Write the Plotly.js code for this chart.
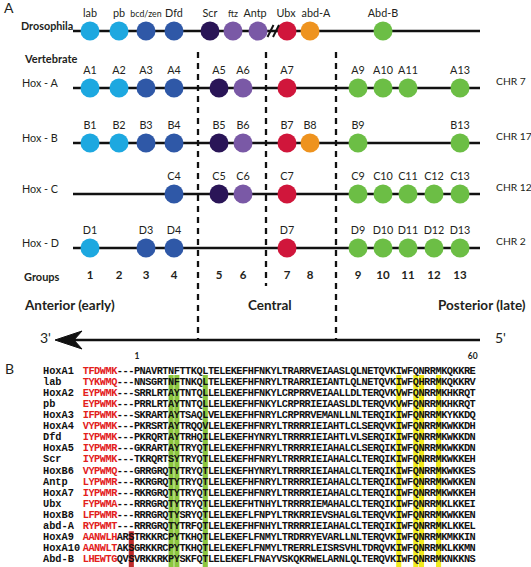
<!DOCTYPE html>
<html><head><meta charset="utf-8">
<script src="https://cdn.plot.ly/plotly-3.0.1.min.js"></script>
<style>html,body{margin:0;padding:0;background:#fff;}#chart{width:531px;height:567px;}</style>
</head><body><div id="chart"></div>
<script>
// ================= DATA =================
const drosGenes  = ['lab','pb','bcd/zen','Dfd','Scr','ftz','Antp','Ubx','abd-A','Abd-B'];
const drosGroups = [1, 2, 3, 4, 5, 6, 6, 7, 8, 9];
const clusterNames   = ['Hox - A','Hox - B','Hox - C','Hox - D'];
const clusterLetters = ['A','B','C','D'];
const chromosomes    = ['CHR 7','CHR 17','CHR 12','CHR 2'];
const hoxA = [1,2,3,4,5,6,7,9,10,11,13];
const hoxB = [1,2,3,4,5,6,7,8,9,13];
const hoxC = [4,5,6,7,9,10,11,12,13];
const hoxD = [1,3,4,7,9,10,11,12,13];
const groupNumbers = [1,2,3,4,5,6,7,8,9,10,11,12,13];
const regionLabels = ['Anterior (early)','Central','Posterior (late)'];
const endLabels = ["3'", "5'"];
const seqNames = ['HoxA1','lab','HoxA2','pb','HoxA3','HoxA4','Dfd','HoxA5','Scr','HoxB6',
                  'Antp','HoxA7','Ubx','HoxB8','abd-A','HoxA9','HoxA10','Abd-B'];
const seqs = [
 'TFDWMK---PNAVRTNFTTKQLTELEKEFHFNKYLTRARRVEIAASLQLNETQVKIWFQNRRMKQKKRE',
 'TYKWMQ---NNSGRTNFTNKQLTELEKEFHFNRYLTRARRIEIANTLQLNETQVKIWFQHRRMKQKKRV',
 'EYPWMK---SRRLRTAYTNTQLLELEKEFHFNKYLCRPRRVEIAALLDLTERQVKVWFQNRRMKHKRQT',
 'EYPWMK---PRRLRTAYTNTQLLELEKEFHFNKYLCRPRRIEIAASLDLTERQVKVWFQNRRMKHKRQT',
 'IFPWMK---SKRARTAYTSAQLVELEKEFHFNRYLCRPRRVEMANLLNLTERQIKIWFQNRRMKYKKDQ',
 'VYPWMK---PKRSRTAYTRQQVLELEKEFHFNRYLTRRRRIEIAHTLCLSERQVKIWFQNRRMKWKKDH',
 'IYPWMK---PKRQRTAYTRHQILELEKEFHYNRYLTRRRRIEIAHTLVLSERQIKIWFQNRRMKWKKDN',
 'IYPWMR---GKRARTAYTRYQTLELEKEFHFNRYLTRRRRIEIAHALCLSERQIKIWFQNRRMKWKKDN',
 'IYPWMK---TKRQRTSYTRYQTLELEKEFHFNRYLTRRRRIEIAHALCLTERQIKIWFQNRRMKWKKEH',
 'VYPWMQ---GRRGRQTYTRYQTLELEKEFHYNRYLTRRRRIEIAHALCLTERQIKIWFQNRRMKWKKES',
 'LYPWMR---RKRGRQTYTRYQTLELEKEFHFNRYLTRRRRIEIAHALCLTERQIKIWFQNRRMKWKKEN',
 'IYPWMR---RKRGRQTYTRYQTLELEKEFHFNRYLTRRRRIEIAHALCLTERQIKIWFQNRRMKWKKEH',
 'FYPWMA---RRRGRQTYTRYQTLELEKEFHTNHYLTRRRRIEMAHALCLTERQIKIWFQNRRMKLKKEI',
 'LFPWMR---RRRGRQTYSRYQTLELEKEFLFNPYLTRKRRIEVSHALGLTERQVKIWFQNRRMKWKKEN',
 'RYPWMT---RRRGRQTYTRFQTLELEKEFHFNHYLTRRRRIEIAHALCLTERQIKIWFQNRRMKLKKEL',
 'AANWLHARSTRKKRCPYTKHQTLELEKEFLFNMYLTRDRRYEVARLLNLTERQVKIWFQNRRMKMKKIN',
 'AANWLTAKSGRKKRCPYTKHQTLELEKEFLFNMYLTRERRLEISRSVHLTDRQVKIWFQNRRMKLKKMN',
 'LHEWTGQVSVRKKRKPYSKFQTLELEKEFLFNAYVSKQKRWELARNLQLTERQVKIWFQNRRMKNKKNS'
];
const redPrefixLength = 6;       // hexapeptide residues shown in red
const prefixLength = 9;          // residues before homeodomain position 1
const greenPositions  = [7, 8, 13];
const yellowPositions = [47, 50, 51, 54];
const redBoxPosition  = 0;
const redBoxRows = ['HoxA9','HoxA10','Abd-B'];
const positionMarks = [1, 60];

// ================= LAYOUT CONSTANTS =================
const COLX = {1:90,2:119,3:146,4:174,5:219,6:243,7:287,8:310,9:358,10:383,11:408,12:434,13:460};
const DROS_X = {'lab':90,'pb':119,'bcd/zen':146,'Dfd':174,'Scr':210,'ftz':233,'Antp':258,'Ubx':287,'abd-A':310,'Abd-B':383};
const DROS_LABEL_DX = {'Antp':-3,'Ubx':-1,'abd-A':6};
const DROS_Y = 31;
const CLUSTER_Y = [88, 143, 194, 248];
const LINE_X0 = 73, LINE_X1 = 480;
const LABEL_DY = -16.5;
const MSIZE = 19;
const GROUPS_Y = 276, REGION_Y = 305, ARROW_Y = 340;
const SEQ_X1 = 137, CHAR_W = 5.69;          // x of homeodomain position 1, char advance
const SEQ_Y0 = 371.5, ROW_H = 11.05;
const SANS = 'Lato, "Open Sans", sans-serif';
const MONO = '"Liberation Mono", "Courier New", monospace';
const TXT = '#231F20';
const LBL = 10.8;

function groupColor(g){
  if (g <= 2) return '#1DA8E0';
  if (g <= 4) return '#2F58A7';
  if (g === 5) return '#2A1557';
  if (g === 6) return '#7A59A6';
  if (g === 7) return '#D0163B';
  if (g === 8) return '#EE931F';
  return '#6CBE45';
}
const posX = p => SEQ_X1 + (p - 1) * CHAR_W;
const rowY = i => SEQ_Y0 + i * ROW_H;

// ================= TRACES =================
const traces = [];
const base = {type:'scatter', hoverinfo:'skip', showlegend:false, cliponaxis:false};

// Drosophila
traces.push(Object.assign({}, base, {mode:'markers',
  x: drosGenes.map(g => DROS_X[g]), y: drosGenes.map(() => DROS_Y),
  marker:{size:MSIZE, color: drosGroups.map(groupColor), line:{width:0}}}));
traces.push(Object.assign({}, base, {mode:'text',
  x: drosGenes.map(g => DROS_X[g] + (DROS_LABEL_DX[g] || 0)), y: drosGenes.map(() => DROS_Y + LABEL_DY),
  text: drosGenes, textposition:'middle center',
  textfont:{family:SANS, size: drosGenes.map(g => (g === 'bcd/zen' || g === 'ftz') ? 8.8 : LBL), color:TXT}}));

// Vertebrate clusters
[hoxA, hoxB, hoxC, hoxD].forEach((cl, ci) => {
  traces.push(Object.assign({}, base, {mode:'markers',
    x: cl.map(g => COLX[g]), y: cl.map(() => CLUSTER_Y[ci]),
    marker:{size:MSIZE, color: cl.map(groupColor), line:{width:0}}}));
  traces.push(Object.assign({}, base, {mode:'text',
    x: cl.map(g => COLX[g]), y: cl.map(() => CLUSTER_Y[ci] + LABEL_DY),
    text: cl.map(g => clusterLetters[ci] + g), textposition:'middle center',
    textfont:{family:SANS, size:LBL, color:TXT}}));
});

// Group numbers
traces.push(Object.assign({}, base, {mode:'text',
  x: groupNumbers.map(g => COLX[g]), y: groupNumbers.map(() => GROUPS_Y),
  text: groupNumbers.map(String), textposition:'middle center',
  textfont:{family:SANS, size:11.5, color:TXT, weight:'bold'}}));

// Position marks 1 / 60
traces.push(Object.assign({}, base, {mode:'text',
  x: positionMarks.map(posX), y: positionMarks.map(() => 356.5),
  text: positionMarks.map(String), textposition:'middle center',
  textfont:{family:SANS, size:8.5, color:TXT, weight:'bold'}}));

// Sequence names
traces.push(Object.assign({}, base, {mode:'text',
  x: seqNames.map(() => 43), y: seqNames.map((n, i) => rowY(i)),
  text: seqNames, textposition:'middle right',
  textfont:{family:MONO, size:10.3, color:'#111', weight:'bold'}}));

// Sequence residues (per-character, aligned on the homeodomain position scale)
const red = {x:[], y:[], t:[]}, blk = {x:[], y:[], t:[]};
seqs.forEach((s, i) => {
  for (let j = 0; j < s.length; j++) {
    const p = j - prefixLength + 1;
    const tgt = j < redPrefixLength ? red : blk;
    tgt.x.push(posX(p)); tgt.y.push(rowY(i)); tgt.t.push(s[j]);
  }
});
traces.push(Object.assign({}, base, {mode:'text', x:red.x, y:red.y, text:red.t,
  textposition:'middle center', textfont:{family:MONO, size:10.3, color:'#E3201B', weight:'bold'}}));
traces.push(Object.assign({}, base, {mode:'text', x:blk.x, y:blk.y, text:blk.t,
  textposition:'middle center', textfont:{family:MONO, size:10.3, color:'#111', weight:'bold'}}));

// ================= SHAPES =================
const shapes = [];
const hl = (p, y0, y1, color) => ({type:'rect', layer:'below', xref:'x', yref:'y',
  x0: posX(p) - 2.55, x1: posX(p) + 2.55, y0, y1, fillcolor: color, line:{width:0}});
const hlTop = rowY(0) + 3.5, hlBot = 567;
greenPositions.forEach(p => shapes.push(hl(p, hlTop, hlBot, '#8CC63F')));
yellowPositions.forEach(p => shapes.push(hl(p, hlTop, hlBot, '#F1EB1E')));
const rIdx = redBoxRows.map(n => seqNames.indexOf(n));
shapes.push(hl(redBoxPosition, rowY(Math.min(...rIdx)) - 6, hlBot, '#BE2B2B'));

const hline = y => ({type:'line', layer:'below', x0:LINE_X0, x1:LINE_X1, y0:y, y1:y, line:{color:'#111', width:2.3}});
shapes.push(hline(DROS_Y));
CLUSTER_Y.forEach(y => shapes.push(hline(y)));
// break marks on Drosophila line
[270.5, 276].forEach(x => shapes.push({type:'line', x0:x - 3, x1:x + 3, y0:DROS_Y + 6, y1:DROS_Y - 6, line:{color:'#111', width:2}}));
// dashed separators
const dash = (x, y1) => ({type:'line', layer:'below', x0:x, x1:x, y0:52, y1:y1, line:{color:'#111', width:2.3, dash:'6px,5px'}});
shapes.push(dash(198, ARROW_Y), dash(266, 286), dash(336, ARROW_Y));
// arrow
shapes.push({type:'line', x0:74, x1:LINE_X1, y0:ARROW_Y, y1:ARROW_Y, line:{color:'#111', width:2.3}});
shapes.push({type:'path', path:`M 55 ${ARROW_Y} L 82 ${ARROW_Y-9} L 74 ${ARROW_Y} L 82 ${ARROW_Y+9} Z`,
  fillcolor:'#111', line:{color:'#111', width:1}});

// ================= ANNOTATIONS =================
const ann = (text, x, y, opts) => Object.assign({text, x, y, xref:'x', yref:'y', showarrow:false,
  xanchor:'left', yanchor:'middle', font:{family:SANS, size:LBL, color:TXT}}, opts || {});
const annotations = [
  ann('A', 2, 7, {font:{family:SANS, size:14, color:TXT}}),
  ann('B', 3, 368, {font:{family:SANS, size:14, color:TXT}}),
  ann('<b>Drosophila</b>', 19, DROS_Y - 6, {font:{family:SANS, size:10.8, color:TXT}}),
  ann('<b>Vertebrate</b>', 22, 58, {font:{family:SANS, size:11, color:TXT}}),
  ann('<b>Groups</b>', 22, GROUPS_Y, {font:{family:SANS, size:11, color:TXT}}),
  ann('<b>' + regionLabels[0] + '</b>', 22, REGION_Y, {font:{family:SANS, size:13.5, color:TXT}}),
  ann('<b>' + regionLabels[1] + '</b>', 270, REGION_Y, {xanchor:'center', font:{family:SANS, size:13.5, color:TXT}}),
  ann('<b>' + regionLabels[2] + '</b>', 528, REGION_Y, {xanchor:'right', font:{family:SANS, size:13.5, color:TXT}}),
  ann(endLabels[0], 53, ARROW_Y - 3, {xanchor:'right', font:{family:SANS, size:14, color:TXT}}),
  ann(endLabels[1], 493, ARROW_Y - 3, {font:{family:SANS, size:14, color:TXT}})
];
clusterNames.forEach((n, i) => annotations.push(ann(n, 40, CLUSTER_Y[i] - 6, {xanchor:'center'})));
chromosomes.forEach((n, i) => annotations.push(ann(n, 494, CLUSTER_Y[i] - 7, {font:{family:SANS, size:10.3, color:TXT}})));

const layout = {
  width:531, height:567, margin:{l:0, r:0, t:0, b:0},
  paper_bgcolor:'#fff', plot_bgcolor:'#fff',
  xaxis:{range:[0,531], visible:false, fixedrange:true},
  yaxis:{range:[567,0], visible:false, fixedrange:true},
  shapes, annotations, showlegend:false
};
Plotly.newPlot('chart', traces, layout, {staticPlot:true, displayModeBar:false});
</script></body></html>
